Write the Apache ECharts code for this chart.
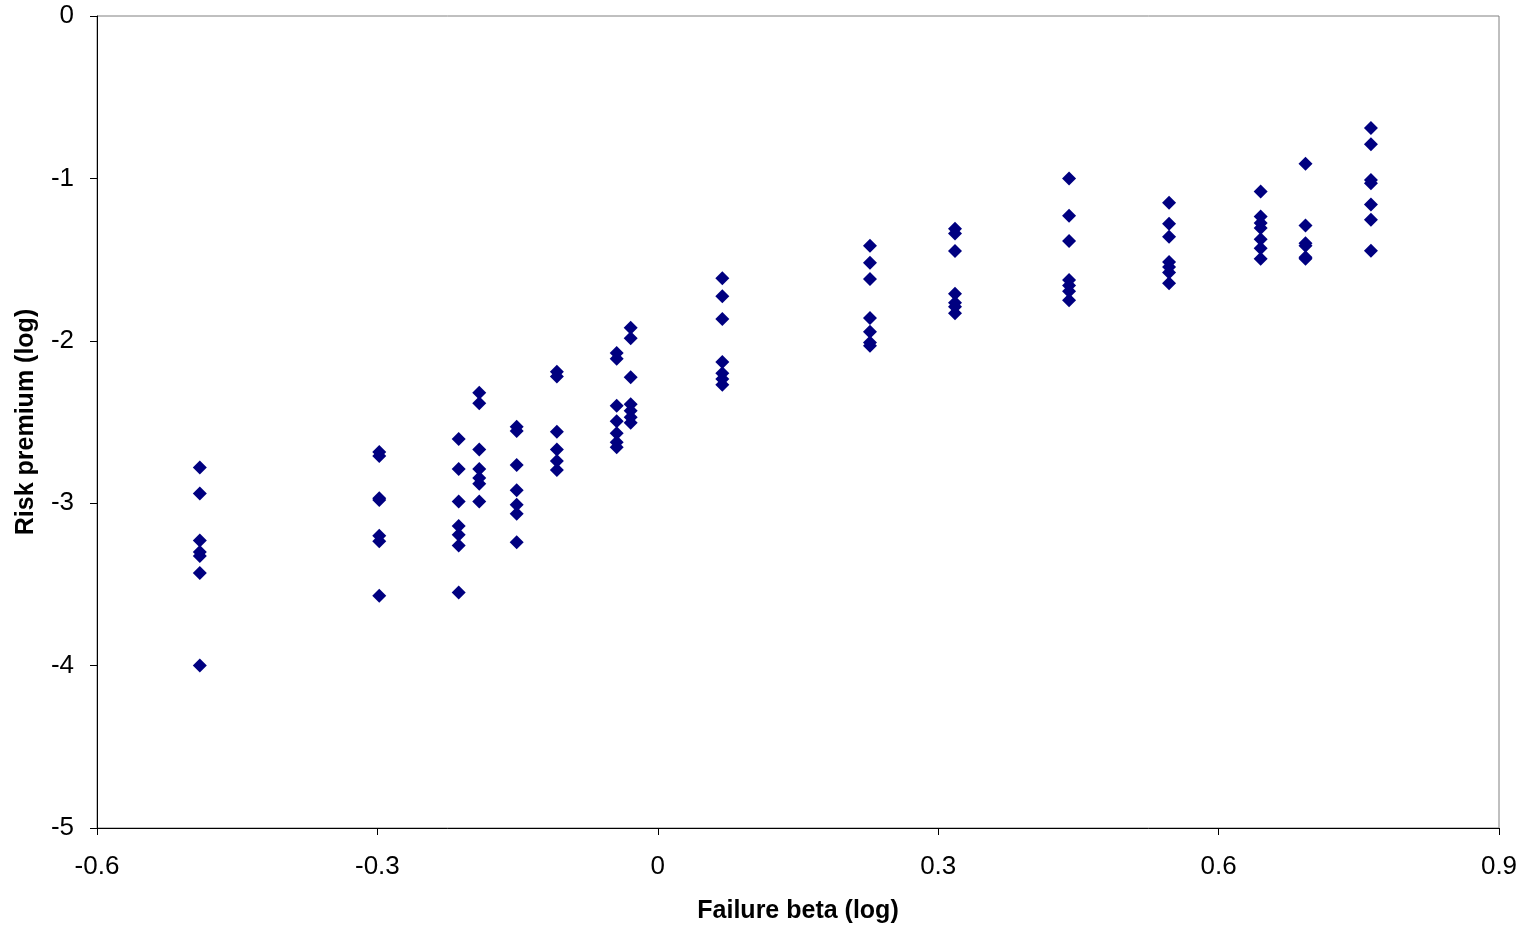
<!DOCTYPE html>
<html>
<head>
<meta charset="utf-8">
<script src="https://cdn.jsdelivr.net/npm/echarts@6/dist/echarts.min.js"></script>
<style>html,body{margin:0;padding:0;background:#fff;}#c{width:1529px;height:930px;}</style>
</head>
<body>
<div id="c"></div>
<script>
// Failure beta (log) for each column of points
const betaCols = [-0.490, -0.298, -0.213, -0.191, -0.151, -0.108, -0.044, -0.029, 0.069, 0.227, 0.318, 0.440, 0.547, 0.645, 0.693, 0.763];
// Risk premium (log) values in each column
const premiumCols = [
  [-2.78, -2.94, -3.23, -3.30, -3.325, -3.43, -4.00],
  [-2.685, -2.71, -2.97, -2.98, -3.20, -3.235, -3.57],
  [-2.605, -2.79, -2.99, -3.14, -3.195, -3.26, -3.55],
  [-2.32, -2.385, -2.67, -2.79, -2.845, -2.88, -2.99],
  [-2.53, -2.555, -2.765, -2.92, -3.01, -3.065, -3.24],
  [-2.19, -2.22, -2.56, -2.67, -2.74, -2.795],
  [-2.075, -2.11, -2.40, -2.495, -2.57, -2.625, -2.655],
  [-1.92, -1.985, -2.225, -2.39, -2.43, -2.47, -2.505],
  [-1.615, -1.725, -1.865, -2.13, -2.20, -2.235, -2.27],
  [-1.415, -1.52, -1.62, -1.86, -1.945, -2.01, -2.03],
  [-1.31, -1.34, -1.447, -1.71, -1.765, -1.79, -1.83],
  [-1.00, -1.23, -1.385, -1.625, -1.66, -1.695, -1.75],
  [-1.15, -1.28, -1.36, -1.515, -1.545, -1.58, -1.645],
  [-1.08, -1.235, -1.275, -1.305, -1.375, -1.43, -1.495],
  [-0.91, -1.29, -1.40, -1.415, -1.485, -1.495],
  [-0.69, -0.79, -1.01, -1.03, -1.16, -1.255, -1.445]
];
const xTicks = {min: -0.6, max: 0.9, interval: 0.3};
const yTicks = {min: -5, max: 0, interval: 1};

const points = [];
betaCols.forEach((b, i) => premiumCols[i].forEach(v => points.push([b, v])));

const chart = echarts.init(document.getElementById('c'), null, {renderer: 'canvas'});
const font = 'Liberation Sans, Arial, sans-serif';
chart.setOption({
  animation: false,
  backgroundColor: '#fff',
  grid: {left: 97, right: 30, top: 16, bottom: 102, show: true, borderColor: '#808080', borderWidth: 1},
  xAxis: {
    type: 'value', min: xTicks.min, max: xTicks.max, interval: xTicks.interval,
    name: 'Failure beta (log)', nameLocation: 'middle', nameGap: 71,
    nameTextStyle: {fontFamily: font, fontSize: 25, fontWeight: 'bold', color: '#000'},
    axisLine: {show: true, onZero: false, lineStyle: {color: '#000', width: 1}},
    axisTick: {show: true, inside: false, length: 7, lineStyle: {color: '#000'}},
    axisLabel: {fontFamily: font, fontSize: 26, color: '#000', margin: 26,
      formatter: v => String(Math.round(v * 10) / 10)},
    splitLine: {show: false}
  },
  yAxis: {
    type: 'value', min: yTicks.min, max: yTicks.max, interval: yTicks.interval,
    name: 'Risk premium (log)', nameLocation: 'middle', nameGap: 58, nameRotate: 90,
    nameTextStyle: {fontFamily: font, fontSize: 25, fontWeight: 'bold', color: '#000'},
    axisLine: {show: true, onZero: false, lineStyle: {color: '#000', width: 1}},
    axisTick: {show: true, inside: false, length: 7, lineStyle: {color: '#000'}},
    axisLabel: {fontFamily: font, fontSize: 26, color: '#000', margin: 23},
    splitLine: {show: false}
  },
  series: [{
    type: 'scatter',
    symbol: 'diamond',
    symbolSize: [14, 14],
    itemStyle: {color: '#000080', opacity: 1},
    data: points
  }]
});
</script>
</body>
</html>
